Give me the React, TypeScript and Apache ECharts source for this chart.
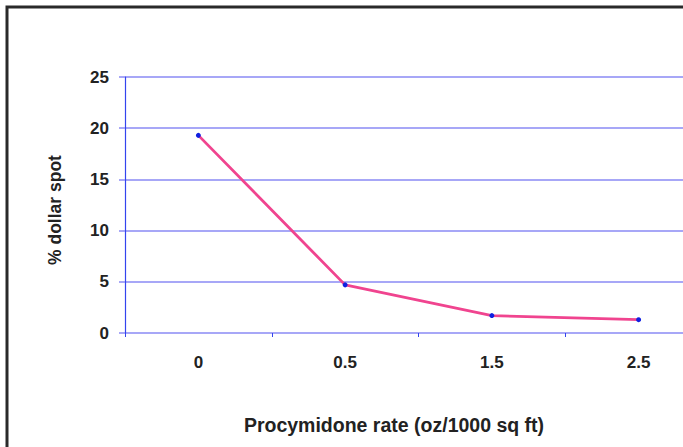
import React, { useEffect, useRef } from "react";
import * as echarts from "echarts";

const categories = ["0", "0.5", "1.5", "2.5"];
const dollarSpot = [19.3, 4.7, 1.7, 1.3];
const yTicks = { min: 0, max: 25, interval: 5 };
const yName = "% dollar spot";
const xName = "Procymidone rate (oz/1000 sq ft)";

export default function App() {
  const ref = useRef<HTMLDivElement>(null);
  useEffect(() => {
    if (!ref.current) return;
    const chart = echarts.init(ref.current, null, { renderer: "svg" });
    const font = "Liberation Sans, Arial, sans-serif";
    chart.setOption({
      animation: false,
      backgroundColor: "#ffffff",
      grid: { left: 125, top: 77, width: 587, height: 256, containLabel: false },
      xAxis: {
        type: "category",
        data: categories,
        boundaryGap: true,
        axisLine: { show: false },
        axisTick: { show: true, length: 4, lineStyle: { color: "#3344ee", width: 1 } },
        axisLabel: { color: "#222", fontFamily: font, fontWeight: "bold", fontSize: 17, margin: 21 },
        splitLine: { show: false },
      },
      yAxis: {
        type: "value",
        min: yTicks.min,
        max: yTicks.max,
        interval: yTicks.interval,
        axisLine: { show: true, lineStyle: { color: "#3344ee", width: 1.2 } },
        axisTick: { show: true, length: 6, lineStyle: { color: "#8a8af5", width: 1.5 } },
        axisLabel: { color: "#222", fontFamily: font, fontWeight: "bold", fontSize: 17, margin: 16 },
        splitLine: { show: true, lineStyle: { color: "#8a8af5", width: 1.5 } },
      },
      series: [
        {
          type: "line",
          data: dollarSpot,
          symbol: "circle",
          symbolSize: 5,
          itemStyle: { color: "#1020e0" },
          lineStyle: { color: "#f0448f", width: 2.8 },
          z: 3,
        },
      ],
      graphic: [
        {
          type: "rect",
          shape: { x: 7, y: 7, width: 740, height: 480 },
          style: { fill: "none", stroke: "#2a2a2a", lineWidth: 3 },
          silent: true,
        },
        {
          type: "text",
          x: 55,
          y: 210,
          rotation: Math.PI / 2,
          style: {
            text: yName,
            fill: "#222",
            font: `bold 17.5px ${font}`,
            align: "center",
            verticalAlign: "middle",
          },
        },
        {
          type: "text",
          x: 394,
          y: 425,
          style: {
            text: xName,
            fill: "#222",
            font: `bold 19.5px ${font}`,
            align: "center",
            verticalAlign: "middle",
          },
        },
      ],
    });
    return () => chart.dispose();
  }, []);
  return (
    <div style={{ position: "fixed", left: 0, top: 0, width: 683, height: 447, overflow: "hidden", background: "#fff" }}>
      <div ref={ref} style={{ width: 760, height: 447 }} />
    </div>
  );
}
